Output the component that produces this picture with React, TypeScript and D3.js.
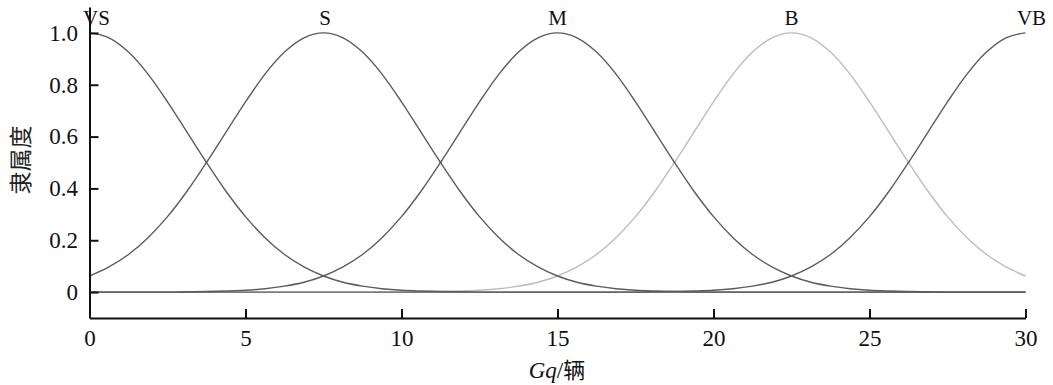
import { useEffect, useRef } from "react";
import * as d3 from "d3";

const gq = [
  0, 0.625, 1.25, 1.875, 2.5, 3.125, 3.75, 4.375, 5, 5.625, 6.25, 6.875, 7.5, 8.125, 8.75, 9.375, 10, 10.625, 11.25,
  11.875, 12.5, 13.125, 13.75, 14.375, 15, 15.625, 16.25, 16.875, 17.5, 18.125, 18.75, 19.375, 20, 20.625, 21.25,
  21.875, 22.5, 23.125, 23.75, 24.375, 25, 25.625, 26.25, 26.875, 27.5, 28.125, 28.75, 29.375, 30,
];

// membership degree of each fuzzy set
const vs = [
  1, 0.981, 0.926, 0.841, 0.734, 0.617, 0.5, 0.389, 0.291, 0.21, 0.145, 0.097, 0.062, 0.038, 0.023, 0.013, 0.007,
  0.004, 0.002, 0.001, 0, 0, 0, 0, 0, 0, 0, 0, 0, 0, 0, 0, 0, 0, 0, 0, 0, 0, 0, 0, 0, 0, 0, 0, 0, 0, 0, 0, 0,
];
const s = [
  0.062, 0.097, 0.145, 0.21, 0.291, 0.389, 0.5, 0.617, 0.734, 0.841, 0.926, 0.981, 1, 0.981, 0.926, 0.841, 0.734,
  0.617, 0.5, 0.389, 0.291, 0.21, 0.145, 0.097, 0.062, 0.038, 0.023, 0.013, 0.007, 0.004, 0.002, 0.001, 0, 0, 0, 0,
  0, 0, 0, 0, 0, 0, 0, 0, 0, 0, 0, 0, 0,
];
const m = [
  0, 0, 0, 0, 0, 0.001, 0.002, 0.004, 0.007, 0.013, 0.023, 0.038, 0.062, 0.097, 0.145, 0.21, 0.291, 0.389, 0.5, 0.617,
  0.734, 0.841, 0.926, 0.981, 1, 0.981, 0.926, 0.841, 0.734, 0.617, 0.5, 0.389, 0.291, 0.21, 0.145, 0.097, 0.062,
  0.038, 0.023, 0.013, 0.007, 0.004, 0.002, 0.001, 0, 0, 0, 0, 0,
];
const b = [
  0, 0, 0, 0, 0, 0, 0, 0, 0, 0, 0, 0, 0, 0, 0, 0, 0, 0.001, 0.002, 0.004, 0.007, 0.013, 0.023, 0.038, 0.062, 0.097,
  0.145, 0.21, 0.291, 0.389, 0.5, 0.617, 0.734, 0.841, 0.926, 0.981, 1, 0.981, 0.926, 0.841, 0.734, 0.617, 0.5, 0.389,
  0.291, 0.21, 0.145, 0.097, 0.062,
];
const vb = [
  0, 0, 0, 0, 0, 0, 0, 0, 0, 0, 0, 0, 0, 0, 0, 0, 0, 0, 0, 0, 0, 0, 0, 0, 0, 0, 0, 0, 0, 0.001, 0.002, 0.004, 0.007,
  0.013, 0.023, 0.038, 0.062, 0.097, 0.145, 0.21, 0.291, 0.389, 0.5, 0.617, 0.734, 0.841, 0.926, 0.981, 1,
];

const setNames = ["VS", "S", "M", "B", "VB"];
const setPeaks = [0, 7.5, 15, 22.5, 30];

const xTicks = [0, 5, 10, 15, 20, 25, 30];
const yTicks = [0, 0.2, 0.4, 0.6, 0.8, 1.0];

const WIDTH = 1053;
const HEIGHT = 385;
const SERIF = '"Liberation Serif", "Times New Roman", serif';
const CJK = '"Noto Sans CJK SC", sans-serif';

export default function App() {
  const svgRef = useRef<SVGSVGElement>(null);

  useEffect(() => {
    document.body.style.margin = "0";
    if (!svgRef.current) return;

    const svg = d3.select(svgRef.current);
    svg.selectAll("*").remove();

    const x = d3.scaleLinear().domain([0, 30]).range([89.5, 1025.5]);
    const y = d3.scaleLinear().domain([-0.1, 1.1]).range([318, 7]);

    svg.append("rect").attr("width", WIDTH).attr("height", HEIGHT).attr("fill", "#fff");

    // B is drawn first so the darker curves sit on top along the zero line
    const series = [
      { name: "B", values: b, color: "#bdbdbd" },
      { name: "VS", values: vs, color: "#5c5c5c" },
      { name: "S", values: s, color: "#5c5c5c" },
      { name: "M", values: m, color: "#5c5c5c" },
      { name: "VB", values: vb, color: "#5c5c5c" },
    ];

    const line = d3
      .line<number>()
      .x((_, i) => x(gq[i]))
      .y((d) => y(d))
      .curve(d3.curveMonotoneX);

    series.forEach((sr) => {
      svg
        .append("path")
        .datum(sr.values)
        .attr("fill", "none")
        .attr("stroke", sr.color)
        .attr("stroke-width", 1.4)
        .attr("d", line);
    });

    // set labels above the peaks
    const labelShift = [7, 1.5, 0, 0, 6];
    svg
      .selectAll(".set-label")
      .data(setNames)
      .enter()
      .append("text")
      .attr("class", "set-label")
      .attr("x", (_, i) => x(setPeaks[i]) + labelShift[i])
      .attr("y", 25)
      .attr("text-anchor", "middle")
      .style("font-family", SERIF)
      .style("font-size", "21px")
      .attr("fill", "#111")
      .text((d) => d);

    // axes
    const xAxis = svg
      .append("g")
      .attr("transform", "translate(0,318)")
      .call(d3.axisBottom(x).tickValues(xTicks).tickSizeInner(-9).tickSizeOuter(0).tickPadding(12));

    const yAxis = svg
      .append("g")
      .attr("transform", "translate(89.5,0)")
      .call(
        d3
          .axisLeft(y)
          .tickValues(yTicks)
          .tickSizeInner(-9)
          .tickSizeOuter(0)
          .tickPadding(11.5)
          .tickFormat((d) => ((d as number) === 0 ? "0" : d3.format(".1f")(d as number)))
      );

    [xAxis, yAxis].forEach((ax) => {
      ax.attr("font-family", null).attr("font-size", null);
      ax.selectAll("path, line").attr("stroke", "#111").attr("stroke-width", 2);
      ax.selectAll("text").style("font-family", SERIF).style("font-size", "23px").attr("fill", "#111");
    });

    // axis titles
    const xTitle = svg
      .append("text")
      .attr("x", 557)
      .attr("y", 378)
      .attr("text-anchor", "middle")
      .style("font-size", "23px")
      .attr("fill", "#111");
    xTitle.append("tspan").style("font-family", SERIF).style("font-style", "italic").text("Gq");
    xTitle.append("tspan").style("font-family", SERIF).text("/");
    xTitle.append("tspan").style("font-family", CJK).style("font-size", "22px").text("辆");

    svg
      .append("text")
      .attr("transform", "translate(29,160) rotate(-90)")
      .attr("text-anchor", "middle")
      .style("font-family", CJK)
      .style("font-size", "23px")
      .attr("fill", "#222")
      .text("隶属度");
  }, []);

  return <svg ref={svgRef} width={WIDTH} height={HEIGHT} style={{ display: "block" }} />;
}
